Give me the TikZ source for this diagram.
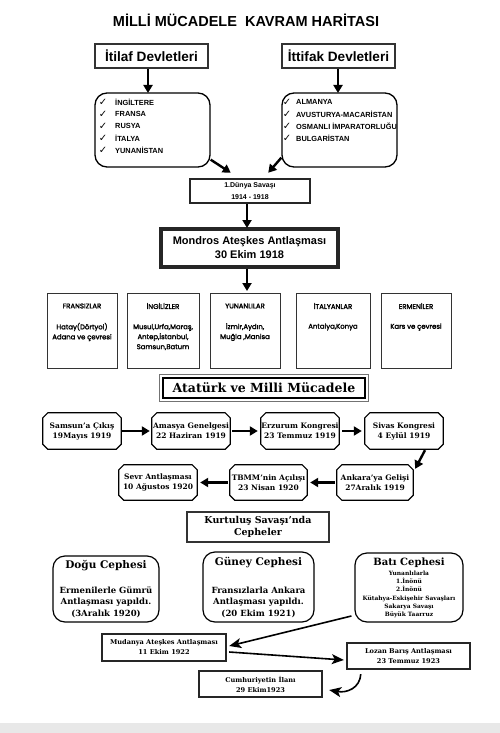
\documentclass[tikz,border=0pt]{standalone}
\usepackage{fontspec}
\setmainfont{DejaVu Serif}
\newfontfamily\arialf{Liberation Sans}
\newfontfamily\roundf{Poppins}[FakeBold=2.2]
\newfontfamily\symf{DejaVu Sans}
\usetikzlibrary{arrows.meta,calc}
\newcommand\chamframe[1]{%
  \draw[black,line width=1.2pt,line join=miter]
    ($(#1.north west)+(5,0)$) -- ($(#1.north east)+(-5,0)$) -- ($(#1.north east)+(0,5)$)
    -- ($(#1.south east)+(0,-5)$) -- ($(#1.south east)+(-5,0)$) -- ($(#1.south west)+(5,0)$)
    -- ($(#1.south west)+(0,-5)$) -- ($(#1.north west)+(0,5)$) -- cycle;}
\begin{document}
\begin{tikzpicture}[x=1pt,y=-1pt,
  arr/.style={line width=2.4pt,-{Triangle[length=8pt,width=9pt]}},
  thinarr/.style={line width=1.6pt,-{Stealth[length=12pt,width=10pt,inset=3pt]}},
  topbox/.style={draw=black!80,line width=2.8pt,minimum width=#1,minimum height=24pt,inner sep=0pt,font=\arialf\bfseries\fontsize{13.6}{15}\selectfont},
  listbox/.style={draw=black,line width=1.3pt,rounded corners=12pt,minimum width=115pt,minimum height=74pt},
  itemtxt/.style={inner sep=0pt,anchor=west,font=\arialf\bfseries\fontsize{7.4}{8}\selectfont},
  chk/.style={inner sep=0pt,font=\symf\fontsize{10}{10}\selectfont},
  dbox/.style={draw=black!85,line width=2.5pt,align=center,inner sep=0pt,font=\arialf\bfseries\fontsize{7}{11.5}\selectfont},
  fivebox/.style={draw=black!80,line width=1pt,minimum height=75pt,inner sep=0pt},
  fivetxt/.style={inner sep=0pt,align=center,font=\roundf\fontsize{6.9}{10}\selectfont},
  oct/.style={inner sep=0pt,align=center,font=\bfseries\fontsize{7.5}{10}\selectfont},
  cbox/.style={draw=black,line width=1.2pt,rounded corners=12pt,inner sep=0pt},
  smbox/.style={draw=black!85,line width=2.4pt,inner sep=0pt,align=center,font=\bfseries\fontsize{6.6}{10}\selectfont}
]
\useasboundingbox (0,0) rectangle (500,733);
\fill[black!9] (0,723) rectangle (500,733);

% title
\node[inner sep=0pt,font=\arialf\bfseries\fontsize{14.5}{16}\selectfont] (title) at (246,20.5) {MİLLİ MÜCADELE~~KAVRAM HARİTASI};

% top boxes
\node[topbox=113pt] (itilaf) at (151.5,56) {İtilaf Devletleri};
\node[topbox=113pt] (ittifak) at (338.5,56) {İttifak Devletleri};
\node[listbox] (listL) at (152.5,130) {};
\node[listbox] (listR) at (339.5,130) {};
\draw[arr,line width=2pt] (itilaf.south -| 148,0) -- (148,93);
\draw[arr,line width=2pt] (ittifak.south -| 338,0) -- (338,93);

\foreach \t [count=\i] in {İNGİLTERE,FRANSA,RUSYA,İTALYA,YUNANİSTAN}{
  \node[chk] (cl\i) at (103,{90+12*\i}) {✓};
  \node[itemtxt] (tl\i) at (115,{90+12*\i}) {\t};
}
\foreach \t [count=\i] in {ALMANYA,AVUSTURYA-MACARİSTAN,OSMANLI İMPARATORLUĞU,BULGARİSTAN}{
  \node[chk] (cr\i) at (287,{90+12*\i}) {✓};
  \node[itemtxt] (tr\i) at (296,{90+12*\i}) {\t};
}

\node[dbox,minimum width=120pt,minimum height=24pt] (dunya) at (250,191) {1.Dünya Savaşı\\1914 - 1918};
\draw[arr] ($(listL.south east)+(0,-8)$) -- ($(dunya.north west)+(42,-5)$);
\draw[arr] ($(listR.south west)+(0,-10)$) -- ($(dunya.north east)+(-43,-5)$);

\node[dbox,line width=3.2pt,minimum width=177pt,minimum height=38pt,font=\arialf\bfseries\fontsize{11}{14}\selectfont] (mondros) at (249.5,248) {Mondros Ateşkes Antlaşması\\30 Ekim 1918};
\draw[arr,line width=2pt] (dunya.south -| 247,0) -- (247,228);
\draw[arr,line width=2pt] (mondros.south -| 247,0) -- (247,291);

% five boxes
\node[fivebox,minimum width=70pt] (fr) at (82,330.5) {};
\node[fivebox,minimum width=72pt] (in) at (163,330.5) {};
\node[fivebox,minimum width=70pt] (yu) at (245,330.5) {};
\node[fivebox,minimum width=74pt] (it) at (333,330.5) {};
\node[fivebox,minimum width=70pt] (er) at (416,330.5) {};
\node[fivetxt] (frh) at (82,306) {FRANSIZLAR};
\node[fivetxt] (inh) at (163,306) {İNGİLİZLER};
\node[fivetxt] (yuh) at (245,306) {YUNANLILAR};
\node[fivetxt] (ith) at (333,306) {İTALYANLAR};
\node[fivetxt] (erh) at (416,306) {ERMENİLER};
\node[fivetxt] (frb) at (82,332) {Hatay(Dörtyol)\\Adana ve çevresi};
\node[fivetxt] (inb) at (163,337) {Musul,Urfa,Maraş,\\Antep,İstanbul,\\Samsun,Batum};
\node[fivetxt] (yub) at (245,332) {İzmir,Aydın,\\Muğla ,Manisa};
\node[fivetxt] (itb) at (333,327) {Antalya,Konya};
\node[fivetxt] (erb) at (416,327) {Kars ve çevresi};

% Atatürk header
\node[draw=black,line width=1.4pt,minimum width=202pt,minimum height=20pt,inner sep=0pt,font=\bfseries\fontsize{12.5}{14}\selectfont] (atat) at (264,388) {Atatürk ve Milli Mücadele};
\draw[black!55,line width=1.4pt] ($(atat.north west)+(-3,-3)$) rectangle ($(atat.south east)+(3,3)$);

% octagons
\node[oct,minimum width=78pt,minimum height=36pt] (sam) at (82,431) {Samsun'a Çıkış\\19Mayıs 1919};
\node[oct,minimum width=78pt,minimum height=36pt] (ama) at (191,431) {Amasya Genelgesi\\22 Haziran 1919};
\node[oct,minimum width=78pt,minimum height=36pt] (erz) at (300,431) {Erzurum Kongresi\\23 Temmuz 1919};
\node[oct,minimum width=78pt,minimum height=36pt] (siv) at (404,431) {Sivas Kongresi\\4 Eylül 1919};
\node[oct,minimum width=78pt,minimum height=35pt] (sevr) at (158,482.5) {Sevr Antlaşması\\10 Ağustos 1920};
\node[oct,minimum width=77pt,minimum height=35pt] (tbmm) at (268.5,482.5) {TBMM'nin Açılışı\\23 Nisan 1920};
\node[oct,minimum width=76pt,minimum height=35pt] (ank) at (375,482.5) {Ankara'ya Gelişi\\27Aralık 1919};
\chamframe{sam}\chamframe{ama}\chamframe{erz}\chamframe{siv}
\chamframe{sevr}\chamframe{tbmm}\chamframe{ank}
\draw[arr,shorten <=1pt,shorten >=2pt] (sam) -- (ama);
\draw[arr,shorten <=2pt,shorten >=3pt] (ama) -- (erz);
\draw[arr,shorten <=3pt,shorten >=3pt] (erz) -- (siv);
\draw[arr] ($(siv.south)+(21,1)$) -- ($(ank.north east)+(2,4)$);
\draw[arr,shorten <=2pt,shorten >=3pt] (ank) -- (tbmm);
\draw[arr,shorten <=2pt,shorten >=3pt] (tbmm) -- (sevr);

% fronts
\node[draw=black!80,line width=2.8pt,minimum width=142pt,minimum height=30pt,inner sep=0pt,align=center,font=\bfseries\fontsize{9.5}{12.5}\selectfont] (kurt) at (258,527) {Kurtuluş Savaşı'nda\\Cepheler};

\node[cbox,minimum width=106pt,minimum height=66pt] (dogu) at (106,589) {};
\node[cbox,minimum width=111pt,minimum height=70pt] (guney) at (258.5,587) {};
\node[cbox,minimum width=108pt,minimum height=69pt] (bati) at (409,587.5) {};
\node[inner sep=0pt,font=\bfseries\fontsize{10.5}{12}\selectfont] (dogut) at (106,566) {Doğu Cephesi};
\node[inner sep=0pt,align=center,font=\bfseries\fontsize{8.5}{11.5}\selectfont] (dogub) at (106,602) {Ermenilerle Gümrü\\Antlaşması yapıldı.\\(3Aralık 1920)};
\node[inner sep=0pt,font=\bfseries\fontsize{10.5}{12}\selectfont] (guneyt) at (258.5,563) {Güney Cephesi};
\node[inner sep=0pt,align=center,font=\bfseries\fontsize{8.5}{11.5}\selectfont] (guneyb) at (258.5,602) {Fransızlarla Ankara\\Antlaşması yapıldı.\\(20 Ekim 1921)};
\node[inner sep=0pt,font=\bfseries\fontsize{10}{12}\selectfont] (batit) at (409,563) {Batı Cephesi};
\node[inner sep=0pt,align=center,font=\bfseries\fontsize{5.9}{8.2}\selectfont] (batib) at (409,594.5) {Yunanlılarla\\1.İnönü\\2.İnönü\\Kütahya-Eskişehir Savaşları\\Sakarya Savaşı\\Büyük Taarruz};

% treaties
\node[smbox,minimum width=124pt,minimum height=27pt] (mud) at (164,647.5) {Mudanya Ateşkes Antlaşması\\11 Ekim 1922};
\node[smbox,minimum width=123pt,minimum height=26pt] (loz) at (408.5,656) {Lozan Barış Antlaşması\\23 Temmuz 1923};
\node[smbox,minimum width=123pt,minimum height=26pt] (cum) at (260.5,684) {Cumhuriyetin İlanı\\29 Ekim1923};
\draw[thinarr] ($(bati.west)+(-3,28.5)$) -- ($(mud.east)+(2,-1.5)$);
\draw[thinarr] ($(mud.east)+(2,4.5)$) -- ($(loz.west)+(-2,4)$);
\coordinate (cstart) at ($(loz.south west)+(15,4)$);
\draw[thinarr] (cstart) .. controls ($(cstart)+(-1,14)$) and ($(cstart)+(-14,19)$) .. ($(cum.east)+(6,6)$);
\end{tikzpicture}
\end{document}
